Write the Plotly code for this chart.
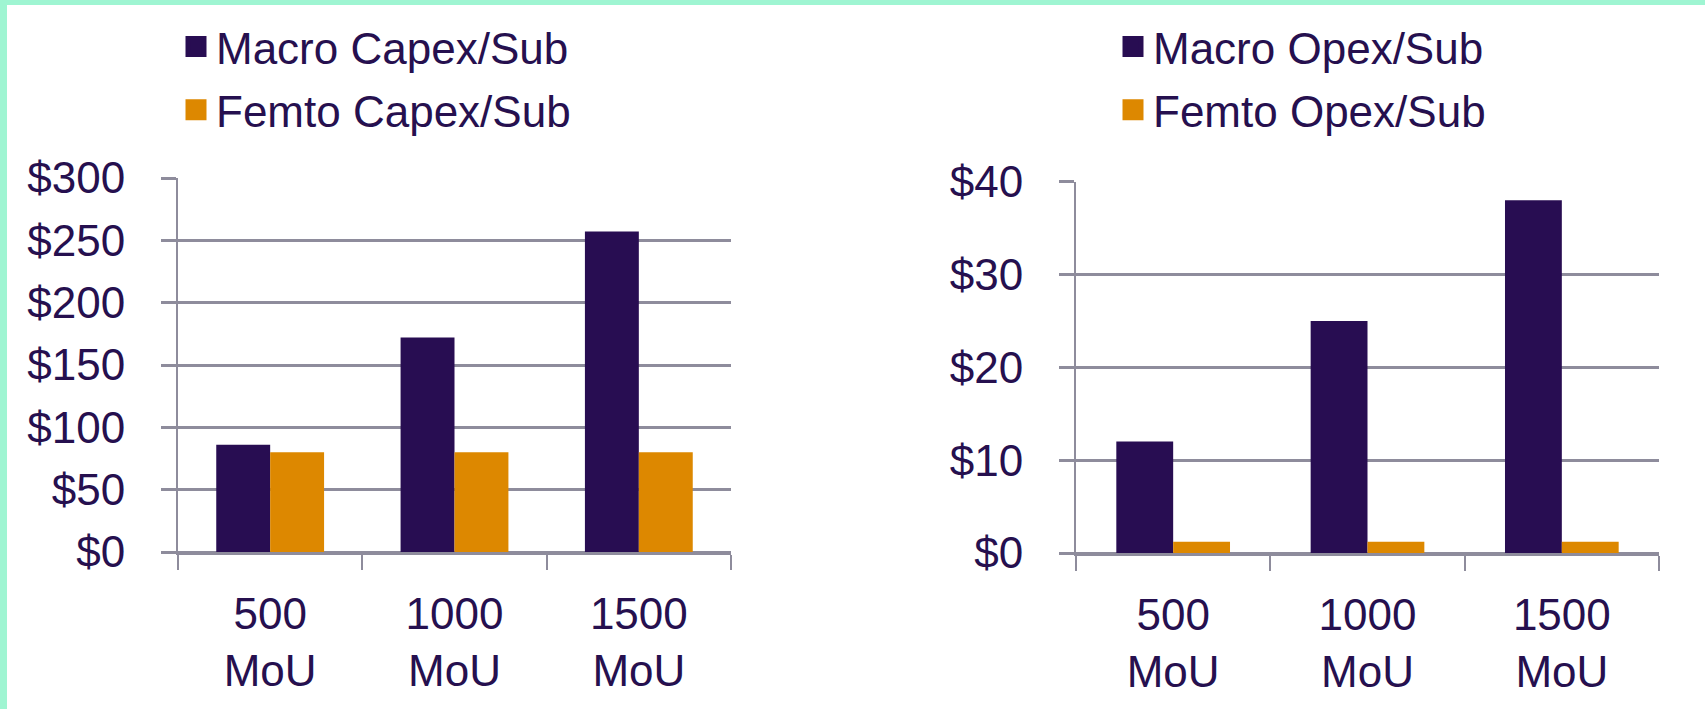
import plotly.graph_objects as go

# ---- data ----
categories = ["500<br>MoU", "1000<br>MoU", "1500<br>MoU"]
macro_capex = [86, 172, 257]
femto_capex = [80, 80, 80]
macro_opex = [12, 25, 38]
femto_opex = [1.2, 1.2, 1.2]
capex_ticks = [0, 50, 100, 150, 200, 250, 300]
opex_ticks = [0, 10, 20, 30, 40]
capex_ticktext = ["$" + str(v) for v in capex_ticks]
opex_ticktext = ["$" + str(v) for v in opex_ticks]
capex_names = ["Macro Capex/Sub", "Femto Capex/Sub"]
opex_names = ["Macro Opex/Sub", "Femto Opex/Sub"]

# ---- style ----
MACRO = "#280d52"
FEMTO = "#dd8800"
TEXT = "#26104f"
GRID = "#8e8c9c"
MINT = "#9ff5d2"
FONT = "Arial, Liberation Sans, sans-serif"
W, H = 1705, 709

fig = go.Figure()
series = [
    (macro_capex, capex_names[0], MACRO, "x", "y", "legend", "a"),
    (femto_capex, capex_names[1], FEMTO, "x", "y", "legend", "b"),
    (macro_opex, opex_names[0], MACRO, "x2", "y2", "legend2", "c"),
    (femto_opex, opex_names[1], FEMTO, "x2", "y2", "legend2", "d"),
]
for vals, name, col, xa, ya, lg, grp in series:
    fig.add_trace(go.Bar(x=categories, y=vals, name=name,
                         marker=dict(color=col, line=dict(width=0)),
                         xaxis=xa, yaxis=ya, legend=lg, legendgroup=grp,
                         showlegend=False))
    # legend entry with a larger square key
    fig.add_trace(go.Scatter(x=[None], y=[None], name=name, mode="markers",
                             marker=dict(symbol="square", size=16, color=col,
                                         line=dict(width=5, color=col)),
                             xaxis=xa, yaxis=ya, legend=lg, legendgroup=grp,
                             showlegend=True, hoverinfo="skip"))

def xax(domain, anchor):
    return dict(domain=domain, anchor=anchor, type="category", automargin=False,
                showline=True, linecolor=GRID, linewidth=3,
                ticks="outside", tickson="boundaries", ticklen=15, tickwidth=2, tickcolor=GRID,
                showgrid=False, ticklabelstandoff=21,
                tickfont=dict(family=FONT, size=44, color=TEXT))

def yax(domain, anchor, rng, ticks, ticktext):
    return dict(domain=domain, anchor=anchor, range=rng, automargin=False,
                tickmode="array", tickvals=ticks, ticktext=ticktext,
                showline=True, linecolor=GRID, linewidth=2,
                ticks="outside", ticklen=15, tickwidth=3, tickcolor=GRID,
                showgrid=True, gridcolor=GRID, gridwidth=3,
                zeroline=True, zerolinecolor=GRID, zerolinewidth=3,
                ticklabelstandoff=27,
                tickfont=dict(family=FONT, size=44, color=TEXT))

legend_common = dict(xanchor="left", yanchor="top", bgcolor="rgba(0,0,0,0)",
                     font=dict(family=FONT, size=44, color=TEXT),
                     traceorder="grouped", tracegroupgap=3)

fig.update_layout(
    width=W, height=H,
    margin=dict(l=0, r=0, t=0, b=0, pad=0, autoexpand=False),
    paper_bgcolor="white", plot_bgcolor="white",
    barmode="group", bargap=0.415, bargroupgap=0,
    xaxis=xax([178 / W, 731 / W], "y"),
    yaxis=yax([(H - 552) / H, (H - 178) / H], "x", [0, 300], capex_ticks, capex_ticktext),
    xaxis2=xax([1076 / W, 1659 / W], "y2"),
    yaxis2=yax([(H - 553) / H, (H - 181.7) / H], "x2", [0, 40], opex_ticks, opex_ticktext),
    legend=dict(x=176 / W, y=0.984, **legend_common),
    legend2=dict(x=1113 / W, y=0.984, **legend_common),
    shapes=[
        dict(type="rect", xref="paper", yref="paper", x0=0, x1=7 / W, y0=0, y1=1,
             fillcolor=MINT, line=dict(width=0), layer="above"),
        dict(type="rect", xref="paper", yref="paper", x0=0, x1=1, y0=1 - 5 / H, y1=1,
             fillcolor=MINT, line=dict(width=0), layer="above"),
    ],
)

fig.write_html("out.html", config={"displayModeBar": False},
               post_script="document.body.style.margin='0';")
